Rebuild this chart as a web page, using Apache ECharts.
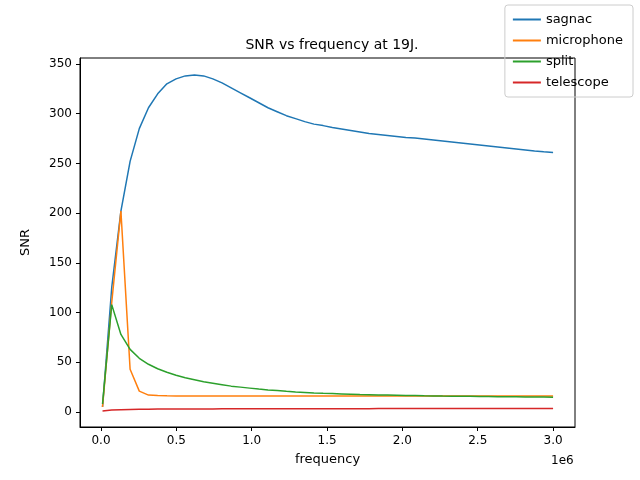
<!DOCTYPE html>
<html>
<head>
<meta charset="utf-8">
<script src="https://cdn.jsdelivr.net/npm/echarts@6/dist/echarts.min.js"></script>
<style>body{margin:0}#main{width:640px;height:480px}</style>
</head>
<body>
<div id="main"></div>
<script>
// frequency in units of 1e6
const freq = [0.01,0.071,0.132,0.193,0.254,0.315,0.376,0.437,0.498,0.559,0.620,0.681,0.742,0.803,0.864,0.925,0.986,1.047,1.108,1.169,1.230,1.291,1.352,1.413,1.474,1.535,1.596,1.657,1.718,1.779,1.840,1.901,1.962,2.023,2.084,2.145,2.206,2.267,2.328,2.389,2.450,2.511,2.572,2.633,2.694,2.755,2.816,2.877,2.938,3.0];
const sagnac = [5,125,202,252,285,306,320,330,335,338,339,338,335,331,326,321,316,311,306,302,298,295,292,289.5,288,286,284.5,283,281.5,280,279,278,277,276,275.5,274.5,273.5,272.5,271.5,270.5,269.5,268.5,267.5,266.5,265.5,264.5,263.5,262.5,261.7,261];
const microphone = [5,110,202,43,21,17,16.5,16.3,16.2,16.2,16.2,16.2,16.2,16.2,16.2,16.2,16.2,16.2,16.2,16.2,16.2,16.2,16.2,16.2,16.2,16.2,16.2,16.2,16.2,16.2,16.2,16.2,16.2,16.2,16.2,16.2,16.2,16.2,16.2,16.2,16.2,16.2,16.2,16.2,16.2,16.2,16.2,16.2,16.2,16.2];
const split = [8,108,78,63,54,48,43.5,40,37,34.5,32.5,30.5,29,27.5,26,25,24,23,22.2,21.5,20.8,20.2,19.7,19.2,18.8,18.5,18.2,17.9,17.6,17.4,17.2,17,16.8,16.6,16.5,16.3,16.2,16,15.9,15.8,15.7,15.6,15.5,15.4,15.3,15.2,15.1,15,15,14.9];
const telescope = [1,2,2.3,2.5,2.7,2.8,2.9,3.0,3.0,3.05,3.1,3.1,3.1,3.15,3.15,3.2,3.2,3.2,3.2,3.25,3.25,3.25,3.3,3.3,3.3,3.3,3.35,3.35,3.35,3.35,3.4,3.4,3.4,3.4,3.4,3.4,3.45,3.45,3.45,3.45,3.45,3.45,3.5,3.5,3.5,3.5,3.5,3.5,3.5,3.5];
const xTicks = [0,0.5,1.0,1.5,2.0,2.5,3.0];
const yTicks = [0,50,100,150,200,250,300,350];
const names = ['sagnac','microphone','split','telescope'];
const colors = ['#1f77b4','#ff7f0e','#2ca02c','#d62728'];
const values = [sagnac, microphone, split, telescope];

var chart = echarts.init(document.getElementById('main'));
const font = 'DejaVu Sans';
chart.setOption({
  animation: false,
  textStyle: {fontFamily: font},
  title: {text: 'SNR vs frequency at 19J.', left: 327, top: 33, textAlign: 'center',
    textStyle: {fontSize: 14, fontWeight: 'normal', color: '#000', fontFamily: font}},
  legend: {orient: 'vertical', right: 7, top: 5, padding: [8, 10, 8, 8],
    borderColor: '#ccc', borderWidth: 1, borderRadius: 3, itemGap: 8,
    itemWidth: 28, itemHeight: 2, icon: 'rect', data: names,
    textStyle: {fontSize: 13, color: '#000', fontFamily: font}},
  grid: {left: 80, right: 65, top: 58, bottom: 53},
  xAxis: {type: 'value', min: -0.1395, max: 3.1455, name: 'frequency',
    nameLocation: 'middle', nameGap: 26, nameTextStyle: {fontSize: 13, color: '#000'},
    splitLine: {show: false},
    axisLine: {onZero: false, lineStyle: {color: '#000'}},
    axisTick: {customValues: xTicks, length: 4, inside: false, lineStyle: {color: '#000'}},
    axisLabel: {customValues: xTicks, color: '#000', fontSize: 12, formatter: v => v.toFixed(1)}},
  yAxis: {type: 'value', min: -15.1, max: 356, name: 'SNR',
    nameLocation: 'middle', nameGap: 48, nameTextStyle: {fontSize: 13, color: '#000'},
    splitLine: {show: false},
    axisLine: {show: true, onZero: false, lineStyle: {color: '#000'}},
    axisTick: {show: true, inside: false, customValues: yTicks, length: 4, lineStyle: {color: '#000'}},
    axisLabel: {customValues: yTicks, color: '#000', fontSize: 12}},
  graphic: [
    {type: 'rect', shape: {x: 80, y: 58, width: 495, height: 369}, silent: true,
     style: {fill: 'none', stroke: '#000', lineWidth: 1}},
    {type: 'text', x: 551, y: 455, style: {text: '1e6', fontSize: 12, fill: '#000', fontFamily: font}}
  ],
  series: names.map((n, i) => ({
    name: n, type: 'line', showSymbol: false, color: colors[i],
    lineStyle: {width: 1.5},
    data: freq.map((f, j) => [f, values[i][j]])
  }))
});
</script>
</body>
</html>
